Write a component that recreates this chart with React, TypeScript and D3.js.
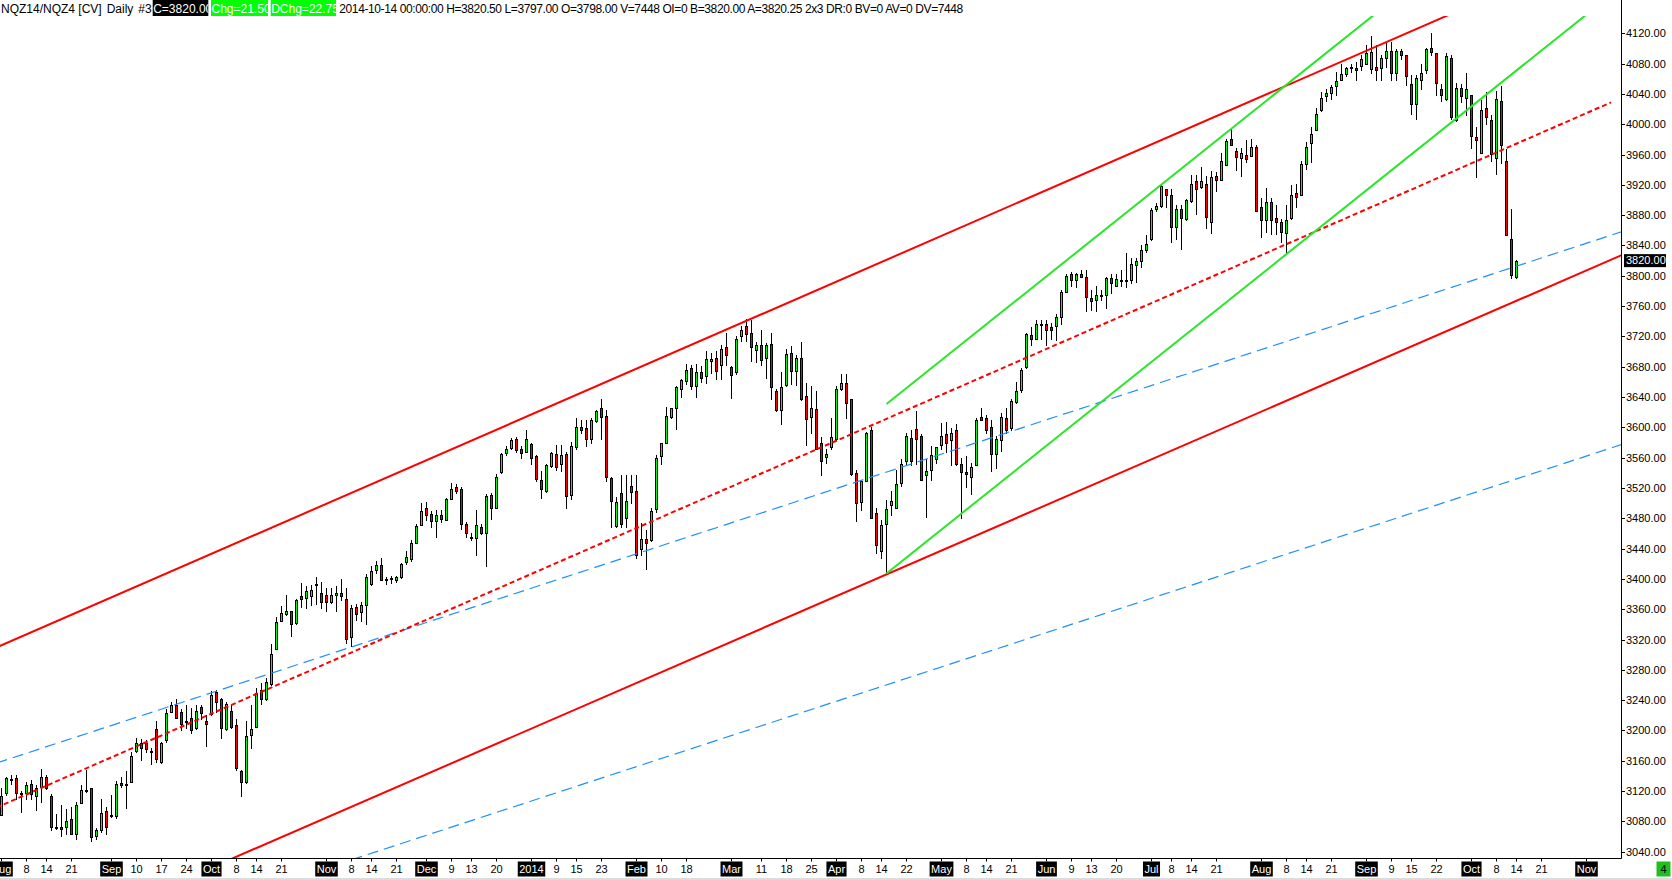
import * as d3 from "d3";
import { useEffect, useRef } from "react";

const WIDTH = 1672;
const HEIGHT = 880;
const FONT = "'Liberation Sans', Arial, sans-serif";

// daily bars, bar 0 = 2013-08-01 ... bar 303 = 2014-10-14
const opens = [
    3089, 3118, 3136, 3137, 3118, 3117, 3130, 3114, 3126, 3139, 3114, 3072, 3072, 3072, 3083, 3063, 3104, 3121, 3124, 3061,
    3068, 3094, 3087, 3087, 3131, 3130, 3132, 3173, 3184, 3184, 3173, 3202, 3159, 3187, 3225, 3234, 3225, 3213, 3216, 3203,
    3231, 3212, 3222, 3251, 3241, 3202, 3226, 3207, 3147, 3132, 3194, 3205, 3254, 3241, 3261, 3308, 3345, 3354, 3358, 3342,
    3378, 3375, 3378, 3393, 3381, 3379, 3370, 3379, 3381, 3374, 3323, 3363, 3356, 3365, 3393, 3412, 3418, 3400, 3401, 3398,
    3402, 3422, 3426, 3448, 3471, 3494, 3486, 3477, 3484, 3478, 3506, 3521, 3518, 3472, 3455, 3454, 3468, 3460, 3511, 3494,
    3541, 3566, 3573, 3584, 3571, 3567, 3578, 3562, 3531, 3516, 3549, 3565, 3551, 3565, 3511, 3574, 3600, 3599, 3585, 3608,
    3626, 3615, 3533, 3470, 3514, 3481, 3522, 3516, 3440, 3453, 3451, 3492, 3562, 3580, 3613, 3625, 3651, 3661, 3678, 3655,
    3673, 3668, 3687, 3692, 3682, 3706, 3679, 3673, 3720, 3734, 3725, 3702, 3709, 3691, 3710, 3648, 3623, 3656, 3698, 3675,
    3691, 3641, 3614, 3624, 3579, 3561, 3574, 3584, 3650, 3659, 3637, 3540, 3502, 3529, 3596, 3487, 3437, 3472, 3497, 3494,
    3526, 3555, 3586, 3598, 3589, 3537, 3544, 3558, 3577, 3591, 3583, 3596, 3552, 3541, 3534, 3550, 3614, 3612, 3601, 3565,
    3583, 3612, 3599, 3633, 3649, 3680, 3722, 3717, 3737, 3736, 3733, 3734, 3746, 3779, 3802, 3794, 3803, 3799, 3771, 3768,
    3774, 3774, 3797, 3787, 3795, 3795, 3794, 3814, 3819, 3834, 3848, 3888, 3892, 3914, 3907, 3865, 3888, 3875, 3899, 3925,
    3917, 3921, 3871, 3932, 3926, 3946, 3981, 3965, 3955, 3960, 3958, 3970, 3891, 3874, 3897, 3876, 3871, 3857, 3876, 3909,
    3907, 3948, 3975, 3993, 4019, 4037, 4041, 4050, 4059, 4066, 4075, 4074, 4077, 4080, 4073, 4075, 4074, 4088, 4096, 4067,
    4096, 4091, 4053, 4027, 4058, 4072, 4100, 4094, 4047, 4033, 4088, 4006, 4048, 4035, 4039, 3983, 3962, 4021, 4005, 3955,
    4031, 3951, 3849, 3798,
];
const highs = [
    3124, 3139, 3141, 3141, 3120, 3132, 3134, 3128, 3149, 3141, 3116, 3090, 3102, 3097, 3099, 3106, 3128, 3148, 3124, 3071,
    3109, 3099, 3115, 3133, 3139, 3146, 3172, 3190, 3189, 3187, 3177, 3213, 3185, 3228, 3238, 3241, 3228, 3233, 3229, 3234,
    3233, 3220, 3252, 3254, 3243, 3238, 3234, 3215, 3148, 3212, 3233, 3256, 3262, 3269, 3314, 3350, 3364, 3379, 3358, 3373,
    3394, 3391, 3392, 3402, 3396, 3388, 3388, 3391, 3400, 3388, 3366, 3367, 3369, 3406, 3417, 3423, 3427, 3403, 3404, 3404,
    3421, 3437, 3451, 3472, 3500, 3501, 3490, 3491, 3491, 3507, 3526, 3525, 3521, 3475, 3460, 3491, 3473, 3512, 3514, 3538,
    3566, 3575, 3586, 3587, 3576, 3596, 3580, 3564, 3542, 3552, 3567, 3577, 3577, 3568, 3581, 3612, 3610, 3610, 3612, 3623,
    3637, 3623, 3535, 3508, 3537, 3537, 3537, 3537, 3474, 3464, 3493, 3563, 3580, 3627, 3626, 3655, 3664, 3684, 3682, 3684,
    3681, 3701, 3698, 3701, 3709, 3725, 3681, 3720, 3734, 3743, 3741, 3713, 3728, 3711, 3724, 3651, 3673, 3704, 3708, 3695,
    3713, 3658, 3654, 3648, 3587, 3571, 3612, 3654, 3670, 3671, 3638, 3544, 3530, 3594, 3601, 3494, 3478, 3504, 3516, 3544,
    3558, 3592, 3597, 3621, 3591, 3558, 3575, 3574, 3606, 3607, 3599, 3605, 3560, 3562, 3553, 3612, 3625, 3616, 3610, 3588,
    3619, 3625, 3638, 3660, 3678, 3725, 3733, 3742, 3742, 3742, 3738, 3750, 3781, 3802, 3805, 3804, 3807, 3808, 3781, 3786,
    3781, 3798, 3803, 3802, 3808, 3830, 3823, 3823, 3840, 3854, 3889, 3896, 3920, 3915, 3915, 3893, 3893, 3901, 3933, 3933,
    3943, 3932, 3938, 3937, 3962, 3981, 3995, 3968, 3968, 3979, 3980, 3973, 3902, 3916, 3903, 3894, 3875, 3893, 3920, 3921,
    3951, 3977, 3996, 4022, 4043, 4047, 4052, 4069, 4080, 4075, 4080, 4082, 4091, 4105, 4116, 4104, 4091, 4107, 4109, 4099,
    4099, 4092, 4065, 4065, 4079, 4101, 4121, 4094, 4053, 4094, 4091, 4055, 4053, 4067, 4039, 3997, 4032, 4043, 4012, 4044,
    4050, 3967, 3888, 3820.5,
];
const lows = [
    3089, 3115, 3129, 3110, 3093, 3110, 3109, 3095, 3106, 3123, 3068, 3070, 3061, 3064, 3063, 3057, 3104, 3119, 3054, 3057,
    3066, 3063, 3086, 3085, 3126, 3098, 3132, 3172, 3161, 3172, 3156, 3158, 3157, 3185, 3224, 3216, 3200, 3203, 3196, 3202,
    3215, 3180, 3221, 3225, 3190, 3201, 3203, 3148, 3113, 3131, 3177, 3204, 3235, 3240, 3260, 3307, 3344, 3352, 3324, 3341,
    3363, 3362, 3365, 3367, 3361, 3358, 3368, 3358, 3372, 3316, 3312, 3346, 3345, 3340, 3392, 3408, 3398, 3393, 3395, 3396,
    3401, 3420, 3423, 3447, 3471, 3478, 3469, 3455, 3475, 3478, 3505, 3513, 3466, 3455, 3451, 3432, 3459, 3417, 3479, 3493,
    3540, 3563, 3572, 3568, 3559, 3567, 3551, 3529, 3507, 3515, 3548, 3544, 3543, 3494, 3506, 3572, 3593, 3575, 3580, 3607,
    3584, 3529, 3468, 3468, 3469, 3469, 3500, 3427, 3431, 3413, 3450, 3488, 3552, 3579, 3612, 3598, 3640, 3657, 3650, 3640,
    3660, 3658, 3672, 3664, 3664, 3682, 3639, 3671, 3714, 3714, 3688, 3686, 3682, 3665, 3638, 3622, 3604, 3654, 3657, 3656,
    3636, 3577, 3593, 3572, 3537, 3553, 3572, 3583, 3649, 3612, 3537, 3477, 3491, 3529, 3481, 3434, 3427, 3407, 3484, 3493,
    3522, 3552, 3550, 3552, 3531, 3482, 3530, 3553, 3571, 3568, 3550, 3550, 3480, 3521, 3512, 3550, 3610, 3592, 3543, 3546,
    3569, 3592, 3596, 3632, 3647, 3678, 3709, 3716, 3717, 3709, 3716, 3715, 3736, 3778, 3786, 3785, 3798, 3754, 3755, 3753,
    3768, 3758, 3777, 3786, 3786, 3785, 3790, 3792, 3811, 3831, 3847, 3886, 3891, 3891, 3844, 3849, 3835, 3874, 3898, 3882,
    3916, 3863, 3857, 3912, 3926, 3946, 3973, 3940, 3932, 3950, 3958, 3885, 3851, 3858, 3855, 3855, 3845, 3830, 3875, 3891,
    3906, 3941, 3950, 3992, 4017, 4031, 4033, 4039, 4058, 4064, 4069, 4058, 4072, 4079, 4067, 4058, 4058, 4075, 4058, 4058,
    4086, 4052, 4013, 4007, 4047, 4068, 4092, 4039, 4031, 4032, 4007, 4004, 4029, 4012, 3968, 3931, 3962, 4000, 3952, 3934,
    3949, 3854, 3797, 3797,
];
const closes = [
    3114, 3137, 3135, 3118, 3118, 3128, 3116, 3124, 3138, 3124, 3072, 3071, 3070, 3081, 3063, 3102, 3122, 3121, 3060, 3068,
    3091, 3073, 3089, 3129, 3128, 3130, 3166, 3183, 3177, 3176, 3173, 3162, 3184, 3223, 3233, 3217, 3209, 3213, 3200, 3226,
    3223, 3209, 3247, 3238, 3203, 3235, 3205, 3151, 3132, 3193, 3202, 3249, 3241, 3264, 3301, 3343, 3355, 3358, 3341, 3372,
    3374, 3384, 3386, 3393, 3370, 3369, 3379, 3381, 3377, 3321, 3362, 3354, 3366, 3403, 3411, 3418, 3398, 3399, 3400, 3402,
    3420, 3429, 3448, 3470, 3489, 3484, 3477, 3484, 3479, 3505, 3519, 3516, 3472, 3460, 3454, 3471, 3461, 3509, 3494, 3534,
    3565, 3571, 3583, 3570, 3566, 3585, 3560, 3532, 3519, 3550, 3566, 3548, 3563, 3510, 3576, 3600, 3596, 3585, 3610, 3621,
    3614, 3534, 3503, 3502, 3472, 3503, 3515, 3431, 3453, 3447, 3489, 3560, 3579, 3615, 3625, 3653, 3662, 3676, 3655, 3673,
    3665, 3690, 3690, 3675, 3703, 3696, 3669, 3717, 3729, 3723, 3706, 3709, 3689, 3709, 3653, 3623, 3653, 3697, 3675, 3692,
    3638, 3611, 3625, 3572, 3555, 3565, 3587, 3651, 3659, 3632, 3538, 3500, 3529, 3592, 3481, 3445, 3471, 3492, 3503, 3525,
    3552, 3588, 3555, 3585, 3531, 3542, 3564, 3574, 3588, 3580, 3592, 3552, 3541, 3538, 3548, 3610, 3610, 3597, 3565, 3585,
    3614, 3597, 3635, 3648, 3676, 3723, 3717, 3737, 3737, 3729, 3728, 3746, 3779, 3800, 3795, 3802, 3799, 3772, 3767, 3774,
    3774, 3797, 3790, 3796, 3795, 3795, 3816, 3820, 3834, 3842, 3887, 3892, 3918, 3907, 3865, 3888, 3876, 3900, 3921, 3915,
    3925, 3877, 3931, 3927, 3952, 3978, 3973, 3957, 3962, 3954, 3970, 3886, 3874, 3898, 3873, 3871, 3858, 3874, 3906, 3904,
    3947, 3970, 3987, 4014, 4035, 4041, 4049, 4057, 4066, 4074, 4075, 4071, 4086, 4094, 4095, 4071, 4088, 4096, 4067, 4096,
    4092, 4063, 4027, 4061, 4067, 4099, 4095, 4054, 4038, 4090, 4009, 4048, 4037, 4047, 3984, 3979, 4019, 4009, 3961, 4033,
    3973, 3854, 3801, 3820,
];

const priceLabels = [
    3040, 3080, 3120, 3160, 3200, 3240, 3280, 3320, 3360, 3400, 3440, 3480, 3520, 3560, 3600, 3640, 3680, 3720, 3760, 3800,
    3840, 3880, 3920, 3960, 4000, 4040, 4080, 4120,
];
const lastPrice = 3820;

// [label, bar index, month marker]
const dateLabels: [string, number, boolean][] = [
    ["Aug", 0, true], ["8", 5, false], ["14", 9, false], ["21", 14, false],
    ["Sep", 22, true], ["10", 27, false], ["17", 32, false], ["24", 37, false],
    ["Oct", 42, true], ["8", 47, false], ["14", 51, false], ["21", 56, false],
    ["Nov", 65, true], ["8", 70, false], ["14", 74, false], ["21", 79, false],
    ["Dec", 85, true], ["9", 90, false], ["13", 94, false], ["20", 99, false],
    ["2014", 106, true], ["9", 111, false], ["15", 115, false], ["23", 120, false],
    ["Feb", 127, true], ["10", 132, false], ["18", 137, false],
    ["Mar", 146, true], ["11", 152, false], ["18", 157, false], ["25", 162, false],
    ["Apr", 167, true], ["8", 172, false], ["14", 176, false], ["22", 181, false],
    ["May", 188, true], ["8", 193, false], ["14", 197, false], ["21", 202, false],
    ["Jun", 209, true], ["9", 214, false], ["13", 218, false], ["20", 223, false],
    ["Jul", 230, true], ["8", 234, false], ["14", 238, false], ["21", 243, false],
    ["Aug", 252, true], ["8", 257, false], ["14", 261, false], ["21", 266, false],
    ["Sep", 273, true], ["9", 278, false], ["15", 282, false], ["22", 287, false],
    ["Oct", 294, true], ["8", 299, false], ["14", 303, false], ["21", 308, false],
    ["Nov", 317, true],
];

// trendline anchors: [bar index, price]
const redChannelTop: [number, number][] = [[-1, 3309.5], [300, 4174.6]];
const redChannelMid: [number, number][] = [[-1, 3098.3], [321.9, 4028.8]];
const redChannelBottom: [number, number][] = [[40, 3013.4], [325, 3830]];
const blueChannelTop: [number, number][] = [[-1, 3157], [325, 3860.2]];
const blueChannelBottom: [number, number][] = [[70, 3029.3], [325, 3579.4]];
const greenChannelTop: [number, number][] = [[177, 3630.7], [280, 4173.3]];
const greenChannelBottom: [number, number][] = [[177, 3407.2], [320, 4160.5]];

const headerWords = ["NQZ14/NQZ4 [CV]", "Daily", "#3"];
const headerBoxes = ["C=3820.00", "Chg=21.50", "DChg=22.75"];
const headerRight = "2014-10-14 00:00:00 H=3820.50 L=3797.00 O=3798.00 V=7448 OI=0 B=3820.00 A=3820.25 2x3 DR:0 BV=0 AV=0 DV=7448";

export default function App() {
    const svgRef = useRef<SVGSVGElement | null>(null);

    useEffect(() => {
        if (!svgRef.current) return;
        const svg = d3.select(svgRef.current);
        svg.selectAll("*").remove();

        const plot = { left: 0, top: 16, right: 1621.5, bottom: 858.5 };
        const x = d3.scaleLinear().domain([0, 324]).range([1.5, 1621.5]);
        const y = d3.scaleLinear().domain([3040, 4120]).range([851.7, 33.3]);
        const py = (p: number) => Math.round(y(p)) + 0.5;

        svg.append("rect").attr("width", WIDTH).attr("height", HEIGHT).attr("fill", "#ffffff");

        const defs = svg.append("defs");
        defs.append("clipPath")
            .attr("id", "plot-clip")
            .append("rect")
            .attr("x", plot.left)
            .attr("y", plot.top)
            .attr("width", plot.right - plot.left)
            .attr("height", plot.bottom - plot.top);

        const bars = opens.map((o, i) => ({ i, o, h: highs[i], l: lows[i], c: closes[i] }));
        const g = svg.append("g").attr("clip-path", "url(#plot-clip)");

        const candle = g.selectAll("g.bar").data(bars).enter().append("g").attr("class", "bar");
        candle
            .append("line")
            .attr("x1", (d) => x(d.i))
            .attr("x2", (d) => x(d.i))
            .attr("y1", (d) => py(d.h) - 0.5)
            .attr("y2", (d) => py(d.l) + 0.5)
            .attr("stroke", "#000")
            .attr("stroke-width", 1);
        candle
            .append("rect")
            .attr("x", (d) => x(d.i) - 1)
            .attr("width", 2)
            .attr("y", (d) => py(Math.max(d.o, d.c)))
            .attr("height", (d) => Math.max(1, py(Math.min(d.o, d.c)) - py(Math.max(d.o, d.c))))
            .attr("fill", (d) => (d.c >= d.o ? "#00ff00" : "#ff0000"))
            .attr("stroke", "#000")
            .attr("stroke-width", 1);

        const line = d3
            .line<[number, number]>()
            .x((d) => x(d[0]))
            .y((d) => y(d[1]));
        const drawLine = (pts: [number, number][], color: string, width: number, dash?: string) => {
            const path = g.append("path").attr("d", line(pts)).attr("fill", "none").attr("stroke", color).attr("stroke-width", width);
            if (dash) path.attr("stroke-dasharray", dash);
        };
        drawLine(blueChannelTop, "#1e8fff", 1.2, "11,6");
        drawLine(blueChannelBottom, "#1e8fff", 1.2, "11,6");
        drawLine(redChannelMid, "#ff0000", 2, "5,3");
        drawLine(redChannelTop, "#ff0000", 2);
        drawLine(redChannelBottom, "#ff0000", 2);
        drawLine(greenChannelTop, "#2ae62a", 2);
        drawLine(greenChannelBottom, "#2ae62a", 2);

        // axes frame
        svg.append("line").attr("x1", plot.right).attr("x2", plot.right).attr("y1", 0).attr("y2", plot.bottom).attr("stroke", "#000");
        svg.append("line").attr("x1", 0).attr("x2", plot.right).attr("y1", plot.bottom).attr("y2", plot.bottom).attr("stroke", "#000");

        // price axis
        const yAxis = svg.append("g").attr("font-family", FONT).attr("font-size", 11);
        priceLabels.forEach((p) => {
            const yy = py(p);
            yAxis.append("line").attr("x1", plot.right).attr("x2", plot.right + 3.5).attr("y1", yy).attr("y2", yy).attr("stroke", "#000");
            yAxis
                .append("text")
                .attr("x", plot.right + 4.5)
                .attr("y", yy)
                .attr("dy", "0.35em")
                .attr("fill", "#000")
                .text(p.toFixed(2));
        });
        const ly = y(lastPrice);
        yAxis.append("rect").attr("x", 1624).attr("y", ly - 6.5).attr("width", 42).attr("height", 13).attr("fill", "#000");
        yAxis
            .append("text")
            .attr("x", 1626)
            .attr("y", ly)
            .attr("dy", "0.35em")
            .attr("fill", "#fff")
            .text(lastPrice.toFixed(2));

        // date axis
        const xAxis = svg.append("g").attr("font-family", FONT).attr("font-size", 11);
        dateLabels.forEach(([label, i, month]) => {
            const xx = x(i);
            xAxis.append("line").attr("x1", xx).attr("x2", xx).attr("y1", plot.bottom).attr("y2", plot.bottom + 3).attr("stroke", "#000");
            const t = xAxis
                .append("text")
                .attr("x", xx)
                .attr("y", 869.5)
                .attr("dy", "0.35em")
                .attr("text-anchor", "middle")
                .attr("fill", month ? "#fff" : "#000")
                .text(label);
            if (month) {
                const w = (t.node() as SVGTextElement).getComputedTextLength();
                xAxis
                    .insert("rect", () => t.node())
                    .attr("x", xx - w / 2 - 1.5)
                    .attr("y", 861.5)
                    .attr("width", w + 3)
                    .attr("height", 15)
                    .attr("fill", "#000");
            }
        });

        svg.append("rect").attr("x", 0).attr("y", 878).attr("width", WIDTH).attr("height", 2).attr("fill", "#dcdcdc");
        svg.append("rect").attr("x", 1656.5).attr("y", 861.5).attr("width", 14).attr("height", 15).attr("fill", "#1fbf1f");
        svg.append("text")
            .attr("x", 1663.5)
            .attr("y", 869.5)
            .attr("dy", "0.35em")
            .attr("text-anchor", "middle")
            .attr("font-family", FONT)
            .attr("font-size", 11)
            .attr("fill", "#000")
            .text("4");

        // header line
        const header = svg.append("g").attr("font-family", FONT).attr("font-size", 12);
        const wordX = [1, 106.7, 138.3];
        headerWords.forEach((w, k) => {
            header.append("text").attr("x", wordX[k]).attr("y", 12.5).attr("fill", "#000").text(w);
        });
        const boxX = [152.7, 211, 270.7];
        const boxW = [55.6, 57, 65.3];
        const boxFill = ["#000000", "#00ff00", "#00ff00"];
        headerBoxes.forEach((label, k) => {
            const id = `hb-${k}`;
            defs.append("clipPath").attr("id", id).append("rect").attr("x", boxX[k]).attr("y", 0).attr("width", boxW[k]).attr("height", 16);
            header.append("rect").attr("x", boxX[k]).attr("y", 0).attr("width", boxW[k]).attr("height", 16).attr("fill", boxFill[k]);
            header
                .append("text")
                .attr("x", boxX[k] + 0.5)
                .attr("y", 12.5)
                .attr("fill", "#fff")
                .attr("clip-path", `url(#${id})`)
                .text(label);
        });
        header.append("text").attr("x", 339.3).attr("y", 12.5).attr("fill", "#000").attr("textLength", 624).attr("lengthAdjust", "spacing").text(headerRight);

        return () => {
            svg.selectAll("*").remove();
        };
    }, []);

    return (
        <div style={{ position: "fixed", left: 0, top: 0, width: WIDTH, height: HEIGHT, background: "#fff" }}>
            <svg ref={svgRef} width={WIDTH} height={HEIGHT} style={{ display: "block" }} />
        </div>
    );
}
